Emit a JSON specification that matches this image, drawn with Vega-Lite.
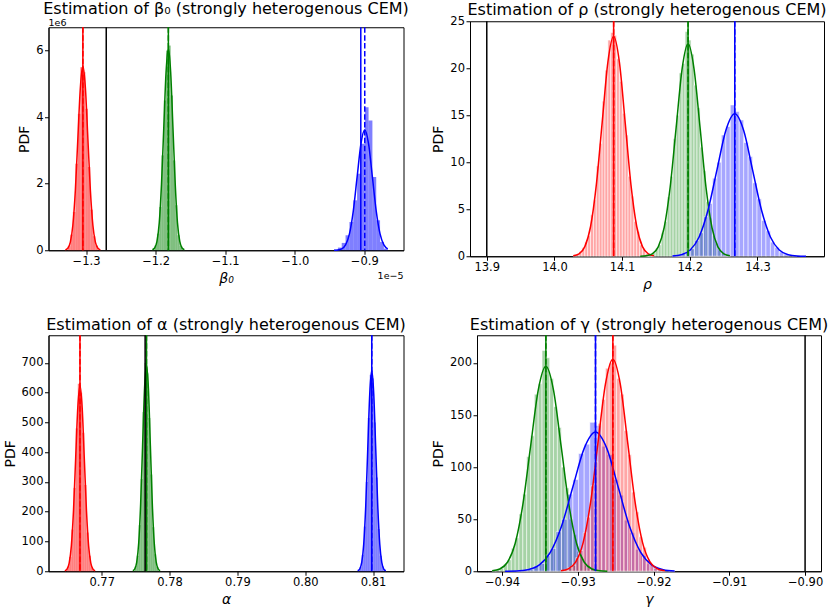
{
  "$schema": "https://vega.github.io/schema/vega-lite/v6.json",
  "padding": {"left": 2.5, "top": 0, "right": 0, "bottom": 0},
  "background": "white",
  "config": {
    "font": "DejaVu Sans",
    "view": {"stroke": "#000000", "strokeWidth": 1},
    "axis": {"grid": false, "domainColor": "#000000", "domainWidth": 1, "tickColor": "#000000", "tickWidth": 1, "tickSize": 4, "labelColor": "#000000", "labelFont": "DejaVu Sans", "labelFontSize": 11.5, "labelPadding": 1.5, "labelFlush": false, "labelOverlap": false, "labelBound": false, "titleColor": "#000000", "titleFont": "DejaVu Sans", "titleFontSize": 14, "titleFontWeight": "normal", "titlePadding": 4},
    "title": {"font": "DejaVu Sans", "fontSize": 16, "fontWeight": "normal", "color": "#000000", "frame": "group"}
  },
  "datasets": {
    "h1": [
      {"s":"m1","x":-1.3262,"x2":-1.3226,"y":0.12},{"s":"m1","x":-1.3226,"x2":-1.3190,"y":0.47},{"s":"m1","x":-1.3190,"x2":-1.3154,"y":1.15},{"s":"m1","x":-1.3154,"x2":-1.3118,"y":2.6},{"s":"m1","x":-1.3118,"x2":-1.3082,"y":4.1},{"s":"m1","x":-1.3082,"x2":-1.3046,"y":5.5},{"s":"m1","x":-1.3046,"x2":-1.3010,"y":5.35},{"s":"m1","x":-1.3010,"x2":-1.2974,"y":4.25},{"s":"m1","x":-1.2974,"x2":-1.2938,"y":2.5},{"s":"m1","x":-1.2938,"x2":-1.2902,"y":1.22},{"s":"m1","x":-1.2902,"x2":-1.2866,"y":0.42},{"s":"m1","x":-1.2866,"x2":-1.2830,"y":0.14},
      {"s":"m2","x":-1.2014,"x2":-1.1981,"y":0.15},{"s":"m2","x":-1.1981,"x2":-1.1948,"y":0.5},{"s":"m2","x":-1.1948,"x2":-1.1916,"y":1.3},{"s":"m2","x":-1.1916,"x2":-1.1883,"y":2.85},{"s":"m2","x":-1.1883,"x2":-1.1850,"y":4.5},{"s":"m2","x":-1.1850,"x2":-1.1817,"y":6.0},{"s":"m2","x":-1.1817,"x2":-1.1784,"y":6.15},{"s":"m2","x":-1.1784,"x2":-1.1751,"y":4.65},{"s":"m2","x":-1.1751,"x2":-1.1718,"y":2.7},{"s":"m2","x":-1.1718,"x2":-1.1686,"y":1.35},{"s":"m2","x":-1.1686,"x2":-1.1653,"y":0.45},{"s":"m2","x":-1.1653,"x2":-1.1620,"y":0.13},
      {"s":"m3","x":-0.9435,"x2":-0.9380,"y":0.02},{"s":"m3","x":-0.9380,"x2":-0.9325,"y":0.08},{"s":"m3","x":-0.9325,"x2":-0.9270,"y":0.22},{"s":"m3","x":-0.9270,"x2":-0.9214,"y":0.45},{"s":"m3","x":-0.9214,"x2":-0.9159,"y":0.85},{"s":"m3","x":-0.9159,"x2":-0.9104,"y":1.5},{"s":"m3","x":-0.9104,"x2":-0.9049,"y":2.3},{"s":"m3","x":-0.9049,"x2":-0.8994,"y":3.2},{"s":"m3","x":-0.8994,"x2":-0.8939,"y":4.3},{"s":"m3","x":-0.8939,"x2":-0.8884,"y":3.9},{"s":"m3","x":-0.8884,"x2":-0.8829,"y":2.2},{"s":"m3","x":-0.8829,"x2":-0.8774,"y":0.9},{"s":"m3","x":-0.8774,"x2":-0.8719,"y":0.25},{"s":"m3","x":-0.8719,"x2":-0.8663,"y":0.05}
    ],
    "c1": [
      {"s":"m1","x":-1.3298,"y":0.0121},{"s":"m1","x":-1.3262,"y":0.0615},{"s":"m1","x":-1.3226,"y":0.243},{"s":"m1","x":-1.3190,"y":0.750},{"s":"m1","x":-1.3154,"y":1.799},{"s":"m1","x":-1.3118,"y":3.360},{"s":"m1","x":-1.3082,"y":4.889},{"s":"m1","x":-1.3046,"y":5.54},{"s":"m1","x":-1.3010,"y":4.889},{"s":"m1","x":-1.2974,"y":3.360},{"s":"m1","x":-1.2938,"y":1.799},{"s":"m1","x":-1.2902,"y":0.750},{"s":"m1","x":-1.2866,"y":0.243},{"s":"m1","x":-1.2830,"y":0.0615},{"s":"m1","x":-1.2794,"y":0.0121},
      {"s":"m2","x":-1.2047,"y":0.0133},{"s":"m2","x":-1.2014,"y":0.0674},{"s":"m2","x":-1.1981,"y":0.2665},{"s":"m2","x":-1.1948,"y":0.8213},{"s":"m2","x":-1.1916,"y":1.971},{"s":"m2","x":-1.1883,"y":3.681},{"s":"m2","x":-1.1850,"y":5.357},{"s":"m2","x":-1.1817,"y":6.07},{"s":"m2","x":-1.1784,"y":5.357},{"s":"m2","x":-1.1751,"y":3.681},{"s":"m2","x":-1.1718,"y":1.971},{"s":"m2","x":-1.1686,"y":0.8213},{"s":"m2","x":-1.1653,"y":0.2665},{"s":"m2","x":-1.1620,"y":0.0674},{"s":"m2","x":-1.1587,"y":0.0133},
      {"s":"m3","x":-0.9435,"y":0.0012},{"s":"m3","x":-0.9380,"y":0.0079},{"s":"m3","x":-0.9325,"y":0.0402},{"s":"m3","x":-0.9270,"y":0.1589},{"s":"m3","x":-0.9214,"y":0.4898},{"s":"m3","x":-0.9159,"y":1.1754},{"s":"m3","x":-0.9104,"y":2.1955},{"s":"m3","x":-0.9049,"y":3.1947},{"s":"m3","x":-0.8994,"y":3.62},{"s":"m3","x":-0.8939,"y":3.1947},{"s":"m3","x":-0.8884,"y":2.1955},{"s":"m3","x":-0.8829,"y":1.1754},{"s":"m3","x":-0.8774,"y":0.4898},{"s":"m3","x":-0.8719,"y":0.1589},{"s":"m3","x":-0.8663,"y":0.0402}
    ],
    "v1": [
      {"s":"true","x":-1.271,"d":"solid"},
      {"s":"m1","x":-1.3046,"d":"solid"},{"s":"m1","x":-1.3046,"d":"dashed"},
      {"s":"m2","x":-1.1817,"d":"solid"},{"s":"m2","x":-1.1817,"d":"dashed"},
      {"s":"m3","x":-0.9051,"d":"solid"},{"s":"m3","x":-0.8994,"d":"dashed"}
    ],
    "h2": [
      {"s":"m1","x":14.0278,"x2":14.0321,"y":0.1},{"s":"m1","x":14.0321,"x2":14.0364,"y":0.2},{"s":"m1","x":14.0364,"x2":14.0406,"y":0.5},{"s":"m1","x":14.0406,"x2":14.0449,"y":0.9},{"s":"m1","x":14.0449,"x2":14.0491,"y":1.5},{"s":"m1","x":14.0491,"x2":14.0534,"y":2.2},{"s":"m1","x":14.0534,"x2":14.0577,"y":4.4},{"s":"m1","x":14.0577,"x2":14.0619,"y":6.0},{"s":"m1","x":14.0619,"x2":14.0662,"y":9.6},{"s":"m1","x":14.0662,"x2":14.0705,"y":12.0},{"s":"m1","x":14.0705,"x2":14.0747,"y":16.5},{"s":"m1","x":14.0747,"x2":14.0790,"y":19.8},{"s":"m1","x":14.0790,"x2":14.0832,"y":23.0},{"s":"m1","x":14.0832,"x2":14.0875,"y":23.8},{"s":"m1","x":14.0875,"x2":14.0918,"y":23.5},{"s":"m1","x":14.0918,"x2":14.0960,"y":21.0},{"s":"m1","x":14.0960,"x2":14.1003,"y":18.6},{"s":"m1","x":14.1003,"x2":14.1046,"y":15.2},{"s":"m1","x":14.1046,"x2":14.1088,"y":12.9},{"s":"m1","x":14.1088,"x2":14.1131,"y":8.5},{"s":"m1","x":14.1131,"x2":14.1173,"y":6.4},{"s":"m1","x":14.1173,"x2":14.1216,"y":3.7},{"s":"m1","x":14.1216,"x2":14.1259,"y":2.6},{"s":"m1","x":14.1259,"x2":14.1301,"y":1.2},{"s":"m1","x":14.1301,"x2":14.1344,"y":0.8},{"s":"m1","x":14.1344,"x2":14.1387,"y":0.3},{"s":"m1","x":14.1387,"x2":14.1429,"y":0.15},{"s":"m1","x":14.1429,"x2":14.1472,"y":0.05},
      {"s":"m2","x":14.1357,"x2":14.1401,"y":0.05},{"s":"m2","x":14.1401,"x2":14.1446,"y":0.2},{"s":"m2","x":14.1446,"x2":14.1490,"y":0.4},{"s":"m2","x":14.1490,"x2":14.1534,"y":0.8},{"s":"m2","x":14.1534,"x2":14.1578,"y":1.2},{"s":"m2","x":14.1578,"x2":14.1622,"y":2.5},{"s":"m2","x":14.1622,"x2":14.1666,"y":3.7},{"s":"m2","x":14.1666,"x2":14.1710,"y":6.3},{"s":"m2","x":14.1710,"x2":14.1754,"y":8.5},{"s":"m2","x":14.1754,"x2":14.1799,"y":12.5},{"s":"m2","x":14.1799,"x2":14.1843,"y":15.0},{"s":"m2","x":14.1843,"x2":14.1887,"y":19.5},{"s":"m2","x":14.1887,"x2":14.1931,"y":20.5},{"s":"m2","x":14.1931,"x2":14.1975,"y":23.9},{"s":"m2","x":14.1975,"x2":14.2019,"y":23.0},{"s":"m2","x":14.2019,"x2":14.2063,"y":21.5},{"s":"m2","x":14.2063,"x2":14.2107,"y":18.2},{"s":"m2","x":14.2107,"x2":14.2152,"y":15.8},{"s":"m2","x":14.2152,"x2":14.2196,"y":11.6},{"s":"m2","x":14.2196,"x2":14.2240,"y":9.1},{"s":"m2","x":14.2240,"x2":14.2284,"y":5.8},{"s":"m2","x":14.2284,"x2":14.2328,"y":4.1},{"s":"m2","x":14.2328,"x2":14.2372,"y":2.2},{"s":"m2","x":14.2372,"x2":14.2416,"y":1.4},{"s":"m2","x":14.2416,"x2":14.2460,"y":0.65},{"s":"m2","x":14.2460,"x2":14.2505,"y":0.35},{"s":"m2","x":14.2505,"x2":14.2549,"y":0.15},{"s":"m2","x":14.2549,"x2":14.2593,"y":0.06},
      {"s":"m3","x":14.1743,"x2":14.1809,"y":0.06},{"s":"m3","x":14.1809,"x2":14.1875,"y":0.1},{"s":"m3","x":14.1875,"x2":14.1941,"y":0.3},{"s":"m3","x":14.1941,"x2":14.2007,"y":0.5},{"s":"m3","x":14.2007,"x2":14.2072,"y":0.8},{"s":"m3","x":14.2072,"x2":14.2138,"y":1.7},{"s":"m3","x":14.2138,"x2":14.2204,"y":2.5},{"s":"m3","x":14.2204,"x2":14.2270,"y":4.2},{"s":"m3","x":14.2270,"x2":14.2336,"y":5.6},{"s":"m3","x":14.2336,"x2":14.2402,"y":8.3},{"s":"m3","x":14.2402,"x2":14.2467,"y":10.0},{"s":"m3","x":14.2467,"x2":14.2533,"y":12.9},{"s":"m3","x":14.2533,"x2":14.2599,"y":13.8},{"s":"m3","x":14.2599,"x2":14.2665,"y":16.1},{"s":"m3","x":14.2665,"x2":14.2731,"y":15.4},{"s":"m3","x":14.2731,"x2":14.2797,"y":14.5},{"s":"m3","x":14.2797,"x2":14.2863,"y":12.1},{"s":"m3","x":14.2863,"x2":14.2928,"y":10.6},{"s":"m3","x":14.2928,"x2":14.2994,"y":7.8},{"s":"m3","x":14.2994,"x2":14.3060,"y":6.1},{"s":"m3","x":14.3060,"x2":14.3126,"y":3.8},{"s":"m3","x":14.3126,"x2":14.3192,"y":2.7},{"s":"m3","x":14.3192,"x2":14.3257,"y":1.5},{"s":"m3","x":14.3257,"x2":14.3323,"y":0.95},{"s":"m3","x":14.3323,"x2":14.3389,"y":0.45},{"s":"m3","x":14.3389,"x2":14.3455,"y":0.25},{"s":"m3","x":14.3455,"x2":14.3521,"y":0.1},{"s":"m3","x":14.3521,"x2":14.3587,"y":0.05}
    ],
    "c2": [
      {"s":"m1","x":14.0278,"y":0.0512},{"s":"m1","x":14.0364,"y":0.260},{"s":"m1","x":14.0449,"y":1.027},{"s":"m1","x":14.0534,"y":3.166},{"s":"m1","x":14.0619,"y":7.598},{"s":"m1","x":14.0705,"y":14.192},{"s":"m1","x":14.0790,"y":20.65},{"s":"m1","x":14.0875,"y":23.4},{"s":"m1","x":14.0960,"y":20.65},{"s":"m1","x":14.1046,"y":14.192},{"s":"m1","x":14.1131,"y":7.598},{"s":"m1","x":14.1216,"y":3.166},{"s":"m1","x":14.1301,"y":1.027},{"s":"m1","x":14.1387,"y":0.260},{"s":"m1","x":14.1472,"y":0.0512},
      {"s":"m2","x":14.1269,"y":0.0076},{"s":"m2","x":14.1357,"y":0.0495},{"s":"m2","x":14.1446,"y":0.251},{"s":"m2","x":14.1534,"y":0.992},{"s":"m2","x":14.1622,"y":3.058},{"s":"m2","x":14.1710,"y":7.338},{"s":"m2","x":14.1799,"y":13.707},{"s":"m2","x":14.1887,"y":19.94},{"s":"m2","x":14.1975,"y":22.6},{"s":"m2","x":14.2063,"y":19.94},{"s":"m2","x":14.2152,"y":13.707},{"s":"m2","x":14.2240,"y":7.338},{"s":"m2","x":14.2328,"y":3.058},{"s":"m2","x":14.2416,"y":0.992},{"s":"m2","x":14.2505,"y":0.251},{"s":"m2","x":14.2593,"y":0.0495},
      {"s":"m3","x":14.1744,"y":0.0332},{"s":"m3","x":14.1875,"y":0.168},{"s":"m3","x":14.2007,"y":0.665},{"s":"m3","x":14.2138,"y":2.050},{"s":"m3","x":14.2270,"y":4.919},{"s":"m3","x":14.2402,"y":9.188},{"s":"m3","x":14.2533,"y":13.370},{"s":"m3","x":14.2665,"y":15.15},{"s":"m3","x":14.2797,"y":13.370},{"s":"m3","x":14.2928,"y":9.188},{"s":"m3","x":14.3060,"y":4.919},{"s":"m3","x":14.3192,"y":2.050},{"s":"m3","x":14.3323,"y":0.665},{"s":"m3","x":14.3455,"y":0.168},{"s":"m3","x":14.3587,"y":0.0332},{"s":"m3","x":14.3718,"y":0.0051}
    ],
    "v2": [
      {"s":"true","x":13.9,"d":"solid"},
      {"s":"m1","x":14.0875,"d":"solid"},{"s":"m1","x":14.0875,"d":"dashed"},
      {"s":"m2","x":14.1975,"d":"solid"},{"s":"m2","x":14.1975,"d":"dashed"},
      {"s":"m3","x":14.2665,"d":"solid"},{"s":"m3","x":14.2665,"d":"dashed"}
    ],
    "h3": [
      {"s":"m1","x":0.764886,"x2":0.765205,"y":15},{"s":"m1","x":0.765205,"x2":0.765524,"y":48},{"s":"m1","x":0.765524,"x2":0.765843,"y":140},{"s":"m1","x":0.765843,"x2":0.766162,"y":280},{"s":"m1","x":0.766162,"x2":0.766481,"y":480},{"s":"m1","x":0.766481,"x2":0.7668,"y":630},{"s":"m1","x":0.7668,"x2":0.767119,"y":600},{"s":"m1","x":0.767119,"x2":0.767438,"y":465},{"s":"m1","x":0.767438,"x2":0.767757,"y":290},{"s":"m1","x":0.767757,"x2":0.768076,"y":130},{"s":"m1","x":0.768076,"x2":0.768395,"y":52},{"s":"m1","x":0.768395,"x2":0.768714,"y":13},
      {"s":"m2","x":0.774878,"x2":0.775165,"y":17},{"s":"m2","x":0.775165,"x2":0.775452,"y":52},{"s":"m2","x":0.775452,"x2":0.775739,"y":155},{"s":"m2","x":0.775739,"x2":0.776026,"y":310},{"s":"m2","x":0.776026,"x2":0.776313,"y":535},{"s":"m2","x":0.776313,"x2":0.7766,"y":700},{"s":"m2","x":0.7766,"x2":0.776887,"y":665},{"s":"m2","x":0.776887,"x2":0.777174,"y":515},{"s":"m2","x":0.777174,"x2":0.777461,"y":325},{"s":"m2","x":0.777461,"x2":0.777748,"y":148},{"s":"m2","x":0.777748,"x2":0.778035,"y":57},{"s":"m2","x":0.778035,"x2":0.778322,"y":15},
      {"s":"m3","x":0.808027,"x2":0.808323,"y":14},{"s":"m3","x":0.808323,"x2":0.808618,"y":55},{"s":"m3","x":0.808618,"x2":0.808914,"y":150},{"s":"m3","x":0.808914,"x2":0.809209,"y":300},{"s":"m3","x":0.809209,"x2":0.809505,"y":515},{"s":"m3","x":0.809505,"x2":0.8098,"y":660},{"s":"m3","x":0.8098,"x2":0.810096,"y":648},{"s":"m3","x":0.810096,"x2":0.810391,"y":500},{"s":"m3","x":0.810391,"x2":0.810687,"y":315},{"s":"m3","x":0.810687,"x2":0.810982,"y":142},{"s":"m3","x":0.810982,"x2":0.811278,"y":52},{"s":"m3","x":0.811278,"x2":0.811573,"y":16}
    ],
    "c3": [
      {"s":"m1","x":0.764567,"y":1.37},{"s":"m1","x":0.764886,"y":6.94},{"s":"m1","x":0.765205,"y":27.4},{"s":"m1","x":0.765524,"y":84.6},{"s":"m1","x":0.765843,"y":202.9},{"s":"m1","x":0.766162,"y":379.1},{"s":"m1","x":0.766481,"y":551.6},{"s":"m1","x":0.7668,"y":625},{"s":"m1","x":0.767119,"y":551.6},{"s":"m1","x":0.767438,"y":379.1},{"s":"m1","x":0.767757,"y":202.9},{"s":"m1","x":0.768076,"y":84.6},{"s":"m1","x":0.768395,"y":27.4},{"s":"m1","x":0.768714,"y":6.94},{"s":"m1","x":0.769033,"y":1.37},
      {"s":"m2","x":0.774591,"y":1.52},{"s":"m2","x":0.774878,"y":7.71},{"s":"m2","x":0.775165,"y":30.5},{"s":"m2","x":0.775452,"y":94.0},{"s":"m2","x":0.775739,"y":225.7},{"s":"m2","x":0.776026,"y":421.5},{"s":"m2","x":0.776313,"y":613.3},{"s":"m2","x":0.7766,"y":695},{"s":"m2","x":0.776887,"y":613.3},{"s":"m2","x":0.777174,"y":421.5},{"s":"m2","x":0.777461,"y":225.7},{"s":"m2","x":0.777748,"y":94.0},{"s":"m2","x":0.778035,"y":30.5},{"s":"m2","x":0.778322,"y":7.71},{"s":"m2","x":0.778609,"y":1.52},
      {"s":"m3","x":0.807732,"y":1.48},{"s":"m3","x":0.808027,"y":7.49},{"s":"m3","x":0.808323,"y":29.6},{"s":"m3","x":0.808618,"y":91.3},{"s":"m3","x":0.808914,"y":219.2},{"s":"m3","x":0.809209,"y":409.4},{"s":"m3","x":0.809505,"y":595.7},{"s":"m3","x":0.8098,"y":675},{"s":"m3","x":0.810096,"y":595.7},{"s":"m3","x":0.810391,"y":409.4},{"s":"m3","x":0.810687,"y":219.2},{"s":"m3","x":0.810982,"y":91.3},{"s":"m3","x":0.811278,"y":29.6},{"s":"m3","x":0.811573,"y":7.49},{"s":"m3","x":0.811869,"y":1.48}
    ],
    "v3": [
      {"s":"m1","x":0.7668,"d":"solid"},{"s":"m1","x":0.7668,"d":"dashed"},
      {"s":"m2","x":0.7766,"d":"solid"},{"s":"m2","x":0.7766,"d":"dashed"},
      {"s":"true","x":0.7764,"d":"solid"},
      {"s":"m3","x":0.8098,"d":"solid"},{"s":"m3","x":0.8098,"d":"dashed"}
    ],
    "h4": [
      {"s":"m2","x":-0.941305,"x2":-0.940798,"y":0.5},{"s":"m2","x":-0.940798,"x2":-0.940291,"y":1.8},{"s":"m2","x":-0.940291,"x2":-0.939785,"y":3.0},{"s":"m2","x":-0.939785,"x2":-0.939278,"y":7.0},{"s":"m2","x":-0.939278,"x2":-0.938771,"y":11},{"s":"m2","x":-0.938771,"x2":-0.938264,"y":22},{"s":"m2","x":-0.938264,"x2":-0.937758,"y":32},{"s":"m2","x":-0.937758,"x2":-0.937251,"y":55},{"s":"m2","x":-0.937251,"x2":-0.936744,"y":74},{"s":"m2","x":-0.936744,"x2":-0.936237,"y":110},{"s":"m2","x":-0.936237,"x2":-0.935731,"y":130},{"s":"m2","x":-0.935731,"x2":-0.935224,"y":170},{"s":"m2","x":-0.935224,"x2":-0.934717,"y":180},{"s":"m2","x":-0.934717,"x2":-0.93421,"y":212},{"s":"m2","x":-0.93421,"x2":-0.933703,"y":205},{"s":"m2","x":-0.933703,"x2":-0.933197,"y":185},{"s":"m2","x":-0.933197,"x2":-0.93269,"y":158},{"s":"m2","x":-0.93269,"x2":-0.932183,"y":138},{"s":"m2","x":-0.932183,"x2":-0.931676,"y":100},{"s":"m2","x":-0.931676,"x2":-0.93117,"y":80},{"s":"m2","x":-0.93117,"x2":-0.930663,"y":50},{"s":"m2","x":-0.930663,"x2":-0.930156,"y":35},{"s":"m2","x":-0.930156,"x2":-0.929649,"y":19},{"s":"m2","x":-0.929649,"x2":-0.929143,"y":12},{"s":"m2","x":-0.929143,"x2":-0.928636,"y":5.5},{"s":"m2","x":-0.928636,"x2":-0.928129,"y":3.5},{"s":"m2","x":-0.928129,"x2":-0.927622,"y":1.2},{"s":"m2","x":-0.927622,"x2":-0.927116,"y":0.6},
      {"s":"m3","x":-0.938104,"x2":-0.937358,"y":0.4},{"s":"m3","x":-0.937358,"x2":-0.936612,"y":1.2},{"s":"m3","x":-0.936612,"x2":-0.935866,"y":2.0},{"s":"m3","x":-0.935866,"x2":-0.93512,"y":4.8},{"s":"m3","x":-0.93512,"x2":-0.934374,"y":7.5},{"s":"m3","x":-0.934374,"x2":-0.933628,"y":15},{"s":"m3","x":-0.933628,"x2":-0.932882,"y":22},{"s":"m3","x":-0.932882,"x2":-0.932136,"y":38},{"s":"m3","x":-0.932136,"x2":-0.93139,"y":50},{"s":"m3","x":-0.93139,"x2":-0.930644,"y":74},{"s":"m3","x":-0.930644,"x2":-0.929898,"y":88},{"s":"m3","x":-0.929898,"x2":-0.929152,"y":113},{"s":"m3","x":-0.929152,"x2":-0.928406,"y":122},{"s":"m3","x":-0.928406,"x2":-0.92766,"y":143},{"s":"m3","x":-0.92766,"x2":-0.926914,"y":140},{"s":"m3","x":-0.926914,"x2":-0.926168,"y":120},{"s":"m3","x":-0.926168,"x2":-0.925422,"y":112},{"s":"m3","x":-0.925422,"x2":-0.924676,"y":88},{"s":"m3","x":-0.924676,"x2":-0.92393,"y":73},{"s":"m3","x":-0.92393,"x2":-0.923184,"y":49},{"s":"m3","x":-0.923184,"x2":-0.922438,"y":37},{"s":"m3","x":-0.922438,"x2":-0.921692,"y":21},{"s":"m3","x":-0.921692,"x2":-0.920946,"y":15},{"s":"m3","x":-0.920946,"x2":-0.9202,"y":7.2},{"s":"m3","x":-0.9202,"x2":-0.919454,"y":4.5},{"s":"m3","x":-0.919454,"x2":-0.918708,"y":1.8},{"s":"m3","x":-0.918708,"x2":-0.917962,"y":1.1},{"s":"m3","x":-0.917962,"x2":-0.917216,"y":0.3},
      {"s":"m1","x":-0.93223,"x2":-0.93174,"y":0.7},{"s":"m1","x":-0.93174,"x2":-0.93125,"y":1.3},{"s":"m1","x":-0.93125,"x2":-0.93076,"y":3.5},{"s":"m1","x":-0.93076,"x2":-0.93027,"y":6.0},{"s":"m1","x":-0.93027,"x2":-0.92978,"y":13},{"s":"m1","x":-0.92978,"x2":-0.92929,"y":20},{"s":"m1","x":-0.92929,"x2":-0.9288,"y":37},{"s":"m1","x":-0.9288,"x2":-0.92831,"y":52},{"s":"m1","x":-0.92831,"x2":-0.92782,"y":82},{"s":"m1","x":-0.92782,"x2":-0.92733,"y":105},{"s":"m1","x":-0.92733,"x2":-0.92684,"y":142},{"s":"m1","x":-0.92684,"x2":-0.92635,"y":165},{"s":"m1","x":-0.92635,"x2":-0.92586,"y":195},{"s":"m1","x":-0.92586,"x2":-0.92537,"y":200},{"s":"m1","x":-0.92537,"x2":-0.92488,"y":217},{"s":"m1","x":-0.92488,"x2":-0.92439,"y":185},{"s":"m1","x":-0.92439,"x2":-0.9239,"y":170},{"s":"m1","x":-0.9239,"x2":-0.92341,"y":135},{"s":"m1","x":-0.92341,"x2":-0.92292,"y":112},{"s":"m1","x":-0.92292,"x2":-0.92243,"y":76},{"s":"m1","x":-0.92243,"x2":-0.92194,"y":57},{"s":"m1","x":-0.92194,"x2":-0.92145,"y":33},{"s":"m1","x":-0.92145,"x2":-0.92096,"y":23},{"s":"m1","x":-0.92096,"x2":-0.92047,"y":11},{"s":"m1","x":-0.92047,"x2":-0.91998,"y":7},{"s":"m1","x":-0.91998,"x2":-0.91949,"y":3},{"s":"m1","x":-0.91949,"x2":-0.919,"y":1.6},{"s":"m1","x":-0.919,"x2":-0.91851,"y":0.5}
    ],
    "c4": [
      {"s":"m2","x":-0.941305,"y":0.431},{"s":"m2","x":-0.940291,"y":2.18},{"s":"m2","x":-0.939278,"y":8.64},{"s":"m2","x":-0.938264,"y":26.63},{"s":"m2","x":-0.937251,"y":63.90},{"s":"m2","x":-0.936237,"y":119.36},{"s":"m2","x":-0.935224,"y":173.68},{"s":"m2","x":-0.93421,"y":196.8},{"s":"m2","x":-0.933197,"y":173.68},{"s":"m2","x":-0.932183,"y":119.36},{"s":"m2","x":-0.93117,"y":63.90},{"s":"m2","x":-0.930156,"y":26.63},{"s":"m2","x":-0.929143,"y":8.64},{"s":"m2","x":-0.928129,"y":2.18},{"s":"m2","x":-0.927116,"y":0.431},{"s":"m2","x":-0.926102,"y":0.066},
      {"s":"m3","x":-0.939596,"y":0.045},{"s":"m3","x":-0.938104,"y":0.293},{"s":"m3","x":-0.936612,"y":1.484},{"s":"m3","x":-0.93512,"y":5.87},{"s":"m3","x":-0.933628,"y":18.09},{"s":"m3","x":-0.932136,"y":43.41},{"s":"m3","x":-0.930644,"y":81.09},{"s":"m3","x":-0.929152,"y":117.99},{"s":"m3","x":-0.92766,"y":133.7},{"s":"m3","x":-0.926168,"y":117.99},{"s":"m3","x":-0.924676,"y":81.09},{"s":"m3","x":-0.923184,"y":43.41},{"s":"m3","x":-0.921692,"y":18.09},{"s":"m3","x":-0.9202,"y":5.87},{"s":"m3","x":-0.918708,"y":1.484},{"s":"m3","x":-0.917216,"y":0.293},
      {"s":"m1","x":-0.93223,"y":0.446},{"s":"m1","x":-0.93125,"y":2.26},{"s":"m1","x":-0.93027,"y":8.93},{"s":"m1","x":-0.92929,"y":27.53},{"s":"m1","x":-0.92831,"y":66.08},{"s":"m1","x":-0.92733,"y":123.42},{"s":"m1","x":-0.92635,"y":179.59},{"s":"m1","x":-0.92537,"y":203.5},{"s":"m1","x":-0.92439,"y":179.59},{"s":"m1","x":-0.92341,"y":123.42},{"s":"m1","x":-0.92243,"y":66.08},{"s":"m1","x":-0.92145,"y":27.53},{"s":"m1","x":-0.92047,"y":8.93},{"s":"m1","x":-0.91949,"y":2.26},{"s":"m1","x":-0.91851,"y":0.446}
    ],
    "v4": [
      {"s":"m2","x":-0.93421,"d":"solid"},{"s":"m2","x":-0.93421,"d":"dashed"},
      {"s":"m3","x":-0.92766,"d":"solid"},{"s":"m3","x":-0.92766,"d":"dashed"},
      {"s":"m1","x":-0.92537,"d":"solid"},{"s":"m1","x":-0.92537,"d":"dashed"},
      {"s":"true","x":-0.9,"d":"solid"}
    ]
  },
  "spacing": 24,
  "vconcat": [
    {
      "spacing": 21.5,
      "align": "each",
      "center": true,
      "hconcat": [
        {
          "width": 355, "height": 223,
          "title": {"text": "Estimation of β₀ (strongly heterogenous CEM)", "offset": 1},
          "layer": [
            {"data": {"name": "h1"}, "mark": {"type": "rect", "fillOpacity": 0.5, "strokeWidth": 0},
             "encoding": {
               "x": {"field": "x", "type": "quantitative", "title": "β₀", "scale": {"domain": [-1.354, -0.8437], "nice": false, "zero": false}, "axis": {"values": [-1.3, -1.2, -1.1, -1.0, -0.9], "format": ".1f", "titleFontStyle": "italic"}},
               "x2": {"field": "x2"},
               "y": {"field": "y", "type": "quantitative", "title": "PDF", "scale": {"domain": [0, 6.7], "nice": false, "zero": false}, "axis": {"values": [0, 1, 2, 3, 4, 5, 6], "format": "d"}},
               "y2": {"datum": 0},
               "color": {"field": "s", "type": "nominal", "scale": {"domain": ["m1","m2","m3","true"], "range": ["#ff0000","#008000","#0000ff","#000000"]}, "legend": null}
             }},
            {"data": {"name": "c1"}, "mark": {"type": "line", "strokeWidth": 1.5, "interpolate": "monotone"},
             "encoding": {
               "x": {"field": "x", "type": "quantitative", "title": "β₀", "axis": {"values": [-1.3, -1.2, -1.1, -1.0, -0.9], "format": ".1f", "titleFontStyle": "italic"}},
               "y": {"field": "y", "type": "quantitative", "title": "PDF", "axis": {"values": [0, 1, 2, 3, 4, 5, 6], "format": "d"}},
               "color": {"field": "s", "type": "nominal", "legend": null}
             }},
            {"data": {"name": "v1"}, "mark": {"type": "rule", "strokeWidth": 1.5},
             "encoding": {
               "x": {"field": "x", "type": "quantitative", "title": "β₀", "axis": {"values": [-1.3, -1.2, -1.1, -1.0, -0.9], "format": ".1f", "titleFontStyle": "italic"}},
               "color": {"field": "s", "type": "nominal", "legend": null},
               "strokeDash": {"field": "d", "type": "nominal", "scale": {"domain": ["solid","dashed"], "range": [[1,0],[5.5,2.4]]}, "legend": null}
             }},
            {"data": {"values": [{"t": "1e6"}]}, "mark": {"type": "text", "align": "left", "baseline": "alphabetic", "dy": -1.5, "fontSize": 9.5, "color": "#000000"},
             "encoding": {"x": {"datum": -1.354}, "y": {"datum": 6.7}, "text": {"field": "t"}}},
            {"data": {"values": [{"t": "1e−5"}]}, "mark": {"type": "text", "align": "right", "baseline": "top", "dy": 21, "fontSize": 9.5, "color": "#000000"},
             "encoding": {"x": {"datum": -0.8437}, "y": {"datum": 0}, "text": {"field": "t"}}}
          ]
        },
        {
          "width": 354, "height": 235,
          "title": {"text": "Estimation of ρ (strongly heterogenous CEM)", "offset": -3},
          "layer": [
            {"data": {"name": "h2"}, "mark": {"type": "rect", "fillOpacity": 0.35, "stroke": "#ffffff", "strokeWidth": 0.8, "strokeOpacity": 0.7},
             "encoding": {
               "x": {"field": "x", "type": "quantitative", "title": "ρ", "scale": {"domain": [13.8752, 14.3984], "nice": false, "zero": false}, "axis": {"values": [13.9, 14.0, 14.1, 14.2, 14.3], "format": ".1f", "titleFontStyle": "italic"}},
               "x2": {"field": "x2"},
               "y": {"field": "y", "type": "quantitative", "title": "PDF", "scale": {"domain": [0, 25], "nice": false, "zero": false}, "axis": {"values": [0, 5, 10, 15, 20, 25], "format": "d"}},
               "y2": {"datum": 0},
               "color": {"field": "s", "type": "nominal", "scale": {"domain": ["m1","m2","m3","true"], "range": ["#ff0000","#008000","#0000ff","#000000"]}, "legend": null}
             }},
            {"data": {"name": "c2"}, "mark": {"type": "line", "strokeWidth": 1.5, "interpolate": "monotone"},
             "encoding": {
               "x": {"field": "x", "type": "quantitative", "title": "ρ", "axis": {"values": [13.9, 14.0, 14.1, 14.2, 14.3], "format": ".1f", "titleFontStyle": "italic"}},
               "y": {"field": "y", "type": "quantitative", "title": "PDF", "axis": {"values": [0, 5, 10, 15, 20, 25], "format": "d"}},
               "color": {"field": "s", "type": "nominal", "legend": null}
             }},
            {"data": {"name": "v2"}, "mark": {"type": "rule", "strokeWidth": 1.5},
             "encoding": {
               "x": {"field": "x", "type": "quantitative", "title": "ρ", "axis": {"values": [13.9, 14.0, 14.1, 14.2, 14.3], "format": ".1f", "titleFontStyle": "italic"}},
               "color": {"field": "s", "type": "nominal", "legend": null},
               "strokeDash": {"field": "d", "type": "nominal", "scale": {"domain": ["solid","dashed"], "range": [[1,0],[5.5,2.4]]}, "legend": null}
             }}
          ]
        }
      ]
    },
    {
      "spacing": 24.5,
      "align": "each",
      "center": true,
      "hconcat": [
        {
          "width": 355, "height": 236,
          "title": {"text": "Estimation of α (strongly heterogenous CEM)", "offset": 2},
          "layer": [
            {"data": {"name": "h3"}, "mark": {"type": "rect", "fillOpacity": 0.5, "strokeWidth": 0},
             "encoding": {
               "x": {"field": "x", "type": "quantitative", "title": "α", "scale": {"domain": [0.76216, 0.81448], "nice": false, "zero": false}, "axis": {"values": [0.77, 0.78, 0.79, 0.80, 0.81], "format": ".2f", "titleFontStyle": "italic"}},
               "x2": {"field": "x2"},
               "y": {"field": "y", "type": "quantitative", "title": "PDF", "scale": {"domain": [0, 793], "nice": false, "zero": false}, "axis": {"values": [0, 100, 200, 300, 400, 500, 600, 700], "format": "d"}},
               "y2": {"datum": 0},
               "color": {"field": "s", "type": "nominal", "scale": {"domain": ["m1","m2","m3","true"], "range": ["#ff0000","#008000","#0000ff","#000000"]}, "legend": null}
             }},
            {"data": {"name": "c3"}, "mark": {"type": "line", "strokeWidth": 1.5, "interpolate": "monotone"},
             "encoding": {
               "x": {"field": "x", "type": "quantitative", "title": "α", "axis": {"values": [0.77, 0.78, 0.79, 0.80, 0.81], "format": ".2f", "titleFontStyle": "italic"}},
               "y": {"field": "y", "type": "quantitative", "title": "PDF", "axis": {"values": [0, 100, 200, 300, 400, 500, 600, 700], "format": "d"}},
               "color": {"field": "s", "type": "nominal", "legend": null}
             }},
            {"data": {"name": "v3"}, "mark": {"type": "rule", "strokeWidth": 1.5},
             "encoding": {
               "x": {"field": "x", "type": "quantitative", "title": "α", "axis": {"values": [0.77, 0.78, 0.79, 0.80, 0.81], "format": ".2f", "titleFontStyle": "italic"}},
               "color": {"field": "s", "type": "nominal", "legend": null},
               "strokeDash": {"field": "d", "type": "nominal", "scale": {"domain": ["solid","dashed"], "range": [[1,0],[5.5,2.4]]}, "legend": null}
             }}
          ]
        },
        {
          "width": 344, "height": 236,
          "title": {"text": "Estimation of γ (strongly heterogenous CEM)", "offset": 2},
          "layer": [
            {"data": {"name": "h4"}, "mark": {"type": "rect", "fillOpacity": 0.35, "stroke": "#ffffff", "strokeWidth": 0.8, "strokeOpacity": 0.7},
             "encoding": {
               "x": {"field": "x", "type": "quantitative", "title": "γ", "scale": {"domain": [-0.9433, -0.8979], "nice": false, "zero": false}, "axis": {"values": [-0.94, -0.93, -0.92, -0.91, -0.90], "format": ".2f", "titleFontStyle": "italic"}},
               "x2": {"field": "x2"},
               "y": {"field": "y", "type": "quantitative", "title": "PDF", "scale": {"domain": [0, 226.6], "nice": false, "zero": false}, "axis": {"values": [0, 50, 100, 150, 200], "format": "d"}},
               "y2": {"datum": 0},
               "color": {"field": "s", "type": "nominal", "scale": {"domain": ["m1","m2","m3","true"], "range": ["#ff0000","#008000","#0000ff","#000000"]}, "legend": null}
             }},
            {"data": {"name": "c4"}, "mark": {"type": "line", "strokeWidth": 1.5, "interpolate": "monotone"},
             "encoding": {
               "x": {"field": "x", "type": "quantitative", "title": "γ", "axis": {"values": [-0.94, -0.93, -0.92, -0.91, -0.90], "format": ".2f", "titleFontStyle": "italic"}},
               "y": {"field": "y", "type": "quantitative", "title": "PDF", "axis": {"values": [0, 50, 100, 150, 200], "format": "d"}},
               "color": {"field": "s", "type": "nominal", "legend": null}
             }},
            {"data": {"name": "v4"}, "mark": {"type": "rule", "strokeWidth": 1.5},
             "encoding": {
               "x": {"field": "x", "type": "quantitative", "title": "γ", "axis": {"values": [-0.94, -0.93, -0.92, -0.91, -0.90], "format": ".2f", "titleFontStyle": "italic"}},
               "color": {"field": "s", "type": "nominal", "legend": null},
               "strokeDash": {"field": "d", "type": "nominal", "scale": {"domain": ["solid","dashed"], "range": [[1,0],[5.5,2.4]]}, "legend": null}
             }}
          ]
        }
      ]
    }
  ]
}
